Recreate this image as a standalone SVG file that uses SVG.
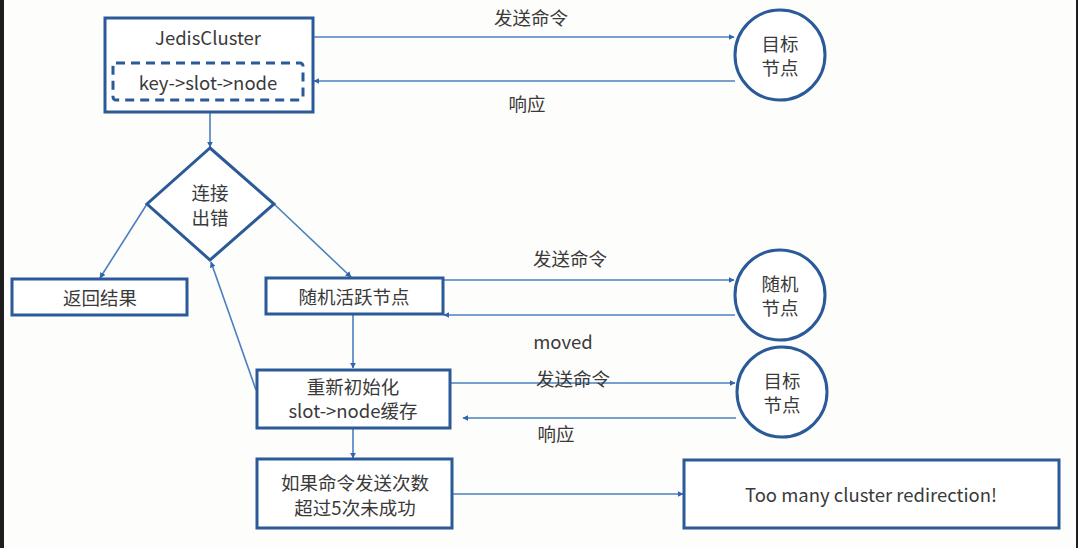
<svg xmlns="http://www.w3.org/2000/svg" width="1078" height="548" viewBox="0 0 1078 548">
<defs>
<style>
.box{fill:#ffffff;stroke:#2a5a97;stroke-width:3}
.dash{fill:none;stroke:#2a5a97;stroke-width:3;stroke-dasharray:9 6}
.ln{fill:none;stroke:#4a80c0;stroke-width:1.6}
.t{font-family:"Noto Sans CJK SC","Noto Sans",sans-serif;font-size:18.5px;fill:#3a3a3a;text-anchor:middle;dominant-baseline:central}
</style>
<marker id="ar" viewBox="0 0 10 10" refX="9" refY="5" markerWidth="6" markerHeight="6" markerUnits="userSpaceOnUse" orient="auto"><path d="M0,0L10,5L0,10z" fill="#2e64b0"/></marker>
</defs>
<rect width="1078" height="548" fill="#fdfdfb"/>
<rect x="0" y="0" width="4" height="548" fill="#1e1e1e"/>
<rect x="1076" y="0" width="2" height="548" fill="#1e1e1e"/>

<g id="connectors">
<line class="ln" x1="313" y1="37" x2="734" y2="37" marker-end="url(#ar)"/>
<line class="ln" x1="735" y1="81" x2="314" y2="81" marker-end="url(#ar)"/>
<line class="ln" x1="210" y1="112" x2="210" y2="147" marker-end="url(#ar)"/>
<line class="ln" x1="147" y1="204" x2="100" y2="278" marker-end="url(#ar)"/>
<line class="ln" x1="274" y1="204" x2="351" y2="277" marker-end="url(#ar)"/>
<line class="ln" x1="443" y1="280" x2="734" y2="280" marker-end="url(#ar)"/>
<line class="ln" x1="735" y1="315" x2="444" y2="315" marker-end="url(#ar)"/>
<line class="ln" x1="353" y1="314" x2="353" y2="368" marker-end="url(#ar)"/>
<line class="ln" x1="256" y1="390" x2="211" y2="262" marker-end="url(#ar)"/>
<line class="ln" x1="450" y1="383" x2="735" y2="383" marker-end="url(#ar)"/>
<line class="ln" x1="736" y1="418" x2="463" y2="418" marker-end="url(#ar)"/>
<line class="ln" x1="353" y1="428" x2="353" y2="458" marker-end="url(#ar)"/>
<line class="ln" x1="452" y1="494" x2="683" y2="494" marker-end="url(#ar)"/>
<text class="t" x="531" y="17">发送命令</text>
<text class="t" x="527" y="103">响应</text>
<text class="t" x="570" y="258">发送命令</text>
<text class="t" x="563" y="341">moved</text>
<text class="t" x="573" y="378">发送命令</text>
<text class="t" x="556" y="433">响应</text>
</g>

<g id="jediscluster">
<rect class="box" x="105" y="18" width="208" height="94"/>
<text class="t" x="208" y="37">JedisCluster</text>
<rect class="dash" x="113" y="63" width="190" height="37" rx="3"/>
<text class="t" x="208" y="82">key-&gt;slot-&gt;node</text>
</g>

<g id="target1">
<circle class="box" cx="780" cy="55" r="45"/>
<text class="t" x="780" y="43">目标</text>
<text class="t" x="780" y="67">节点</text>
</g>

<g id="decision">
<polygon class="box" points="210,148 274,204 210,260 147,204"/>
<text class="t" x="210" y="192">连接</text>
<text class="t" x="210" y="217">出错</text>
</g>

<g id="return">
<rect class="box" x="12" y="279" width="175" height="36"/>
<text class="t" x="100" y="297">返回结果</text>
</g>

<g id="random-active">
<rect class="box" x="266" y="278" width="177" height="36"/>
<text class="t" x="354" y="296">随机活跃节点</text>
</g>

<g id="random-node">
<circle class="box" cx="780" cy="295" r="45"/>
<text class="t" x="780" y="283">随机</text>
<text class="t" x="780" y="307">节点</text>
</g>

<g id="reinit">
<rect class="box" x="257" y="370" width="193" height="58"/>
<text class="t" x="353" y="386">重新初始化</text>
<text class="t" x="353" y="410">slot-&gt;node缓存</text>
</g>

<g id="target2">
<circle class="box" cx="782" cy="392" r="45"/>
<text class="t" x="782" y="380">目标</text>
<text class="t" x="782" y="404">节点</text>
</g>

<g id="retry">
<rect class="box" x="257" y="459" width="195" height="69"/>
<text class="t" x="355" y="482">如果命令发送次数</text>
<text class="t" x="355" y="507">超过5次未成功</text>
</g>

<g id="too-many">
<rect class="box" x="684" y="460" width="375" height="68"/>
<text class="t" x="871" y="494">Too many cluster redirection!</text>
</g>
</svg>
